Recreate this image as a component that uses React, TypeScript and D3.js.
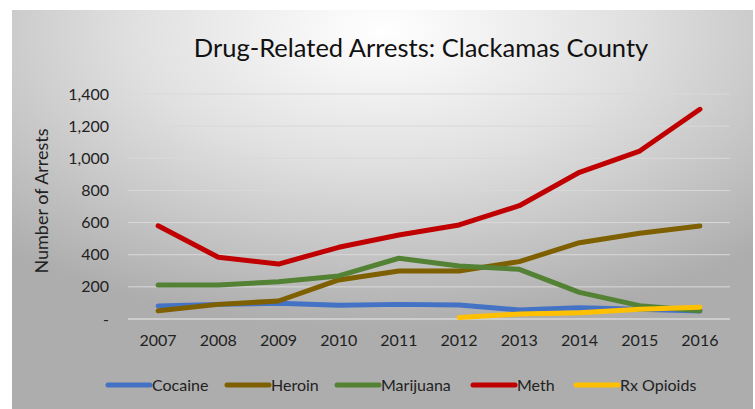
import React from "react";
import * as d3 from "d3";

const years = ["2007", "2008", "2009", "2010", "2011", "2012", "2013", "2014", "2015", "2016"];
const cocaine = [81, 91, 98, 85, 91, 87, 56, 70, 60, 50];
const heroin = [52, 91, 112, 243, 299, 299, 357, 475, 533, 579];
const marijuana = [212, 212, 232, 268, 378, 330, 309, 166, 83, 52];
const meth = [580, 384, 342, 446, 523, 585, 705, 913, 1045, 1305];
const rxOpioids: (number | null)[] = [null, null, null, null, null, 10, 31, 39, 60, 73];
const yTicks = [0, 200, 400, 600, 800, 1000, 1200, 1400];

const seriesNames = ["Cocaine", "Heroin", "Marijuana", "Meth", "Rx Opioids"];
const seriesData = [cocaine, heroin, marijuana, meth, rxOpioids];
const colors = ["#4472c4", "#7f6000", "#548235", "#c00000", "#ffc000"];

const W = 755;
const H = 409;
const FONT = "Lato, 'Open Sans', sans-serif";

export default function App() {
  const plotL = 128, plotR = 730, plotT = 94, plotB = 319;
  const x = d3.scaleBand().domain(years).range([plotL, plotR]);
  const y = d3.scaleLinear().domain([0, 1400]).range([plotB, plotT]);
  const line = d3
    .line<number | null>()
    .defined((d) => d !== null)
    .x((_, i) => (x(years[i]) as number) + x.bandwidth() / 2)
    .y((d) => y(d as number));

  const fmt = d3.format(",");
  const legendX = [108, 227, 337, 473, 576];

  return (
    <div style={{ position: "absolute", left: 0, top: 0 }}>
      <svg width={W} height={H} style={{ display: "block" }}>
        <defs>
          <radialGradient id="bg" cx="0.5" cy="0.05" r="0.75">
            <stop offset="0" stopColor="#ffffff" />
            <stop offset="0.45" stopColor="#e0e0e0" />
            <stop offset="1" stopColor="#adadad" />
          </radialGradient>
        </defs>
        <rect x={0} y={0} width={W} height={H} fill="#fff" />
        <rect x={12} y={10} width={741} height={399} fill="url(#bg)" />
        <text x={421} y={57} textAnchor="middle" fontFamily={FONT} fontSize={25.5} fill="#111">
          Drug-Related Arrests: Clackamas County
        </text>
        {yTicks.map((t) => (
          <g key={t}>
            <line x1={plotL} x2={plotR} y1={y(t)} y2={y(t)} stroke="#d9d9d9" strokeWidth={t === 0 ? 1.5 : 1} />
            <text x={109} y={y(t)} dy="0.35em" textAnchor="end" fontFamily={FONT} fontSize={16} fill="#222">
              {t === 0 ? "-" : fmt(t)}
            </text>
          </g>
        ))}
        <text
          transform={`translate(41.5,${201}) rotate(-90)`}
          textAnchor="middle"
          dy="0.35em"
          fontFamily={FONT}
          fontSize={18}
          fill="#222"
        >
          Number of Arrests
        </text>
        {years.map((yr) => (
          <text
            key={yr}
            x={(x(yr) as number) + x.bandwidth() / 2}
            y={340}
            dy="0.35em"
            textAnchor="middle"
            fontFamily={FONT}
            fontSize={16}
            fill="#222"
          >
            {yr}
          </text>
        ))}
        {seriesData.map((s, i) => (
          <path
            key={seriesNames[i]}
            d={line(s) || ""}
            fill="none"
            stroke={colors[i]}
            strokeWidth={5}
            strokeLinejoin="round"
            strokeLinecap="round"
          />
        ))}
        {seriesNames.map((n, i) => (
          <g key={n} transform={`translate(${legendX[i]},385)`}>
            <line x1={0} x2={42} y1={0} y2={0} stroke={colors[i]} strokeWidth={5} strokeLinecap="round" />
            <text x={44} y={0} dy="0.35em" fontFamily={FONT} fontSize={16} fill="#222">
              {n}
            </text>
          </g>
        ))}
      </svg>
    </div>
  );
}
